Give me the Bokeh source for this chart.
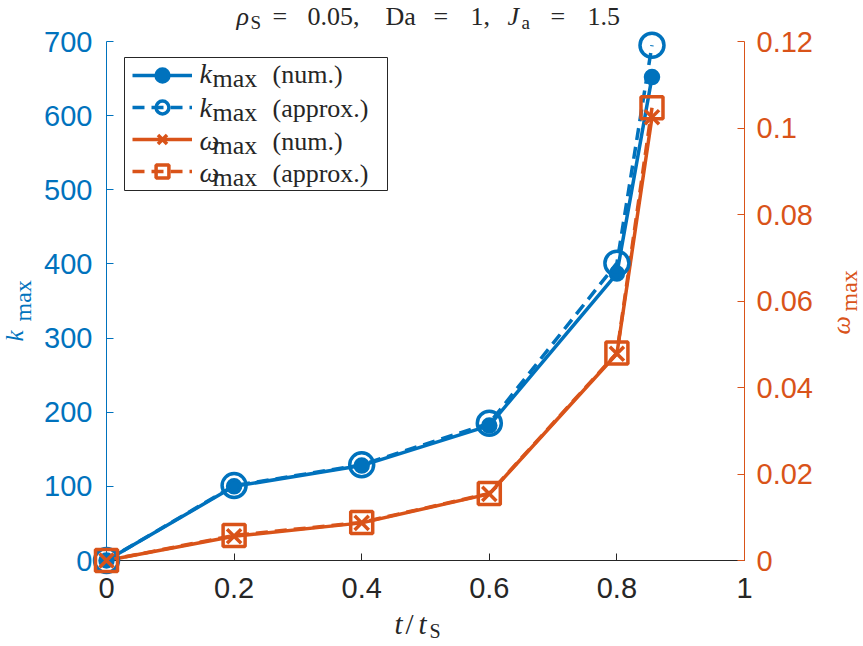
import math

from bokeh.core.properties import value
from bokeh.embed import file_html
from bokeh.models import (BoxAnnotation, CustomJSTickFormatter, FixedTicker,
                          Legend, LegendItem, LinearAxis, Range1d)
from bokeh.plotting import figure
from bokeh.resources import INLINE

# ---- data -----------------------------------------------------------------
t_ratio = [0.0, 0.2, 0.4, 0.6, 0.8, 0.855]
k_num = [0, 100, 128, 182, 387, 652]
k_approx = [0, 101, 129, 185, 401, 695]
w_num = [0.0, 0.0056, 0.0087, 0.0154, 0.0478, 0.1025]
w_approx = [0.0, 0.0058, 0.0088, 0.0155, 0.0480, 0.1047]

x_ticks = [0, 0.2, 0.4, 0.6, 0.8, 1.0]
k_ticks = [0, 100, 200, 300, 400, 500, 600, 700]
w_ticks = [0, 0.02, 0.04, 0.06, 0.08, 0.10, 0.12]

# ---- style ----------------------------------------------------------------
BLUE = "#0072BD"
ORANGE = "#D95319"
DARK = "#262626"
SANS = "Liberation Sans"
SERIF = "Liberation Serif"

W, H = 863, 646
BL, BR, BT, BB = 106, 119, 41, 86
FW, FH = W - BL - BR, H - BT - BB
X0, X1 = 0.0, 1.0
K0, K1 = 0.0, 700.0
W0, W1 = 0.0, 0.12

p = figure(width=W, height=H, x_range=Range1d(X0, X1), y_range=Range1d(K0, K1),
           output_backend="svg", toolbar_location=None,
           min_border_left=BL, min_border_right=BR,
           min_border_top=BT, min_border_bottom=BB)
p.extra_y_ranges = {"w": Range1d(W0, W1)}
p.outline_line_color = None
p.grid.visible = False
p.background_fill_color = "white"
p.border_fill_color = "white"

fmt = CustomJSTickFormatter(code="return String(Math.round(tick * 10000) / 10000);")


def style_axis(ax, color, ticks, standoff):
    ax.ticker = FixedTicker(ticks=ticks)
    ax.formatter = fmt
    ax.axis_line_color = color
    ax.axis_line_width = 1
    ax.major_tick_line_color = color
    ax.major_tick_line_width = 1
    ax.major_tick_in = 7
    ax.major_tick_out = 0
    ax.minor_tick_in = 0
    ax.minor_tick_out = 0
    ax.major_label_text_color = color
    ax.major_label_text_font = SANS
    ax.major_label_text_font_size = "29px"
    ax.major_label_standoff = standoff


style_axis(p.xaxis[0], DARK, x_ticks, 17)
style_axis(p.yaxis[0], BLUE, k_ticks, 14)
right_axis = LinearAxis(y_range_name="w")
style_axis(right_axis, ORANGE, w_ticks, 12)
p.add_layout(right_axis, "right")

# ---- series (markers on the overlay level so they are never cut at the frame)
LW = 3.5
kn_line = p.line(t_ratio, k_num, line_color=BLUE, line_width=LW)
ka_line = p.line(t_ratio, k_approx, line_color=BLUE, line_width=LW, line_dash="12 7")
wn_line = p.line(t_ratio, w_num, line_color=ORANGE, line_width=LW, y_range_name="w")
wa_line = p.line(t_ratio, w_approx, line_color=ORANGE, line_width=LW,
                 line_dash="12 7", y_range_name="w")

kn_pts = p.scatter(t_ratio, k_num, marker="circle", size=13, fill_color=BLUE,
                   line_color=BLUE, line_width=LW, level="overlay")
ka_pts = p.scatter(t_ratio, k_approx, marker="circle", size=24, fill_color=None,
                   line_color=BLUE, line_width=LW, level="overlay")
wn_pts = p.scatter(t_ratio, w_num, marker="x", size=20, line_color=ORANGE,
                   line_width=LW, y_range_name="w", level="overlay")
wa_pts = p.scatter(t_ratio, w_approx, marker="square", size=22, fill_color=None,
                   line_color=ORANGE, line_width=LW, y_range_name="w", level="overlay")


# ---- canvas pixel -> data helpers for the text pieces ------------------------
def dx(px):
    return X0 + (px - BL) / FW * (X1 - X0)


def dy(py):
    return K0 + (H - BB - py) / FH * (K1 - K0)


BASE_LIFT = 0.36  # the text glyph sits this many em below the requested baseline


def txt(s, px, py, size, italic=False, color=DARK, angle=0.0):
    lift = BASE_LIFT * size
    px -= lift * math.sin(angle)
    py -= lift * math.cos(angle)
    p.text(x=[dx(px)], y=[dy(py)], text=[s], angle=angle,
           text_font=value(SERIF), text_font_size=f"{size}px",
           text_font_style="italic" if italic else "normal",
           text_color=color, text_align="left", text_baseline="alphabetic",
           level="overlay")


# ---- legend ---------------------------------------------------------------
p.add_layout(BoxAnnotation(left=dx(124), right=dx(387), top=dy(57), bottom=dy(190),
                           fill_color="white", fill_alpha=1.0,
                           line_color=DARK, line_width=1, line_alpha=1.0))
legend = Legend(items=[
    LegendItem(label=" ", renderers=[kn_line, kn_pts]),
    LegendItem(label=" ", renderers=[ka_line, ka_pts]),
    LegendItem(label=" ", renderers=[wn_line, wn_pts]),
    LegendItem(label=" ", renderers=[wa_line, wa_pts]),
], location=(132 - BL, (H - BB) - 187), padding=0, spacing=0, margin=0,
    glyph_width=60, glyph_height=32, label_standoff=0, label_width=10,
    label_height=32, label_text_font_size="1px", label_text_alpha=0,
    border_line_color=None, background_fill_alpha=0)
p.add_layout(legend)

entries = [("k", "(num.)", 83), ("k", "(approx.)", 117),
           ("\u03c9", "(num.)", 150), ("\u03c9", "(approx.)", 182)]
for sym, tag, base in entries:
    txt(sym, 199, base, 28, italic=True)
    txt("max", 212, base + 4, 26)
    txt(tag, 272, base, 26)

# ---- title ----------------------------------------------------------------
txt("\u03c1", 236, 25, 26, italic=True)
txt("S", 250, 29, 19)
txt("=", 272, 25, 26)
txt("0.05,", 307, 25, 26)
txt("Da", 385, 25, 26)
txt("=", 433, 25, 26)
txt("1,", 470, 25, 26)
txt("J", 507, 25, 26, italic=True)
txt("a", 521, 29, 19)
txt("=", 550, 25, 26)
txt("1.5", 587, 25, 26)

# ---- axis labels ----------------------------------------------------------
txt("t", 394, 634, 29, italic=True)
txt("/", 405, 634, 29)
txt("t", 418, 634, 29, italic=True)
txt("S", 429, 638, 20)

UP = math.pi / 2
txt("k", 23, 341, 25, italic=True, color=BLUE, angle=UP)
txt("max", 31, 321, 24, color=BLUE, angle=UP)
txt("\u03c9", 850, 334, 26, italic=True, color=ORANGE, angle=UP)
txt("max", 857, 311, 24, color=ORANGE, angle=UP)

open("out.html", "w").write(file_html(p, INLINE))
